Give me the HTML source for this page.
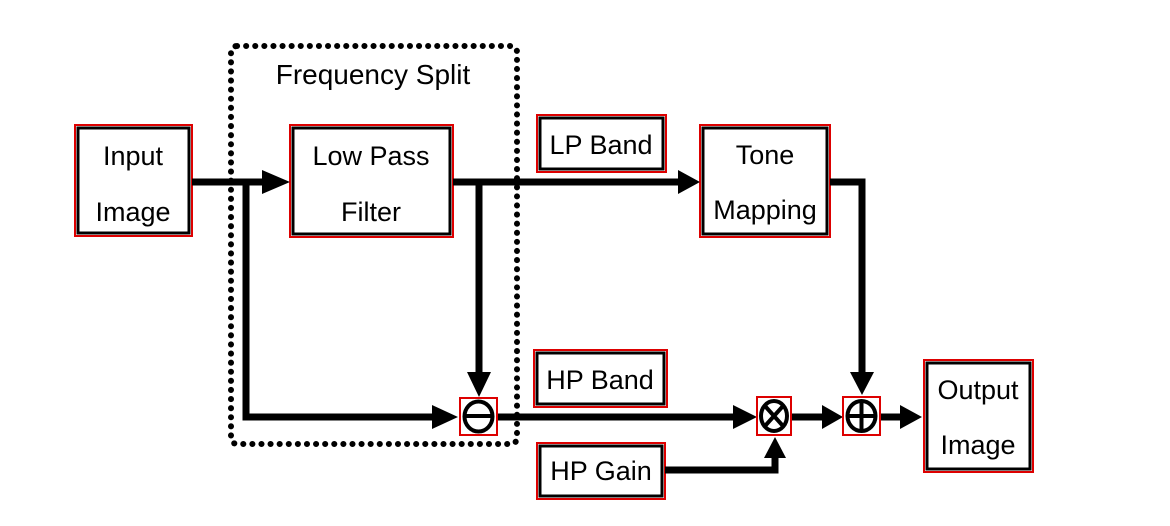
<!DOCTYPE html>
<html><head><style>
body{margin:0;background:#fff;}
svg text{font-family:"Liberation Sans",Arial,sans-serif;font-size:27px;fill:#000;text-anchor:middle;}
</style></head><body>
<svg width="1170" height="521" xmlns="http://www.w3.org/2000/svg">
<rect x="231" y="46" width="286" height="398" rx="6" fill="none" stroke="#000" stroke-width="6" stroke-dasharray="0.1 9" stroke-linecap="round"/>
<text x="373" y="84" style="font-size:28px">Frequency Split</text>
<g fill="#fff">
<rect x="75" y="125" width="117" height="111" stroke="#d00" stroke-width="2"/><rect x="78" y="128" width="111" height="105" stroke="#000" stroke-width="3"/>
<rect x="290" y="125" width="163" height="112" stroke="#d00" stroke-width="2"/><rect x="293" y="128" width="157" height="106" stroke="#000" stroke-width="3"/>
<rect x="537" y="115" width="129" height="57" stroke="#d00" stroke-width="2"/><rect x="540" y="118" width="123" height="51" stroke="#000" stroke-width="3"/>
<rect x="700" y="125" width="130" height="112" stroke="#d00" stroke-width="2"/><rect x="703" y="128" width="124" height="106" stroke="#000" stroke-width="3"/>
<rect x="534" y="350" width="133" height="57" stroke="#d00" stroke-width="2"/><rect x="537" y="353" width="127" height="51" stroke="#000" stroke-width="3"/>
<rect x="537" y="443" width="128" height="56" stroke="#d00" stroke-width="2"/><rect x="540" y="446" width="122" height="50" stroke="#000" stroke-width="3"/>
<rect x="924" y="360" width="109" height="112" stroke="#d00" stroke-width="2"/><rect x="927" y="363" width="103" height="106" stroke="#000" stroke-width="3"/>
</g>
<text x="133" y="165">Input</text><text x="133" y="221">Image</text>
<text x="371" y="165">Low Pass</text><text x="371" y="221">Filter</text>
<text x="601" y="154">LP Band</text>
<text x="765" y="164">Tone</text><text x="765" y="219">Mapping</text>
<text x="600" y="389">HP Band</text>
<text x="601" y="480">HP Gain</text>
<text x="978" y="399">Output</text><text x="978" y="454">Image</text>
<g stroke="#000" stroke-width="7" fill="none">
<path d="M192 182H266"/>
<path d="M246 182V417H436"/>
<path d="M453 182H682"/>
<path d="M479 182V376"/>
<path d="M497 417H737"/>
<path d="M830 182H862V376"/>
<path d="M791 417H826"/>
<path d="M880 417H904"/>
<path d="M665 470H775V458"/>
</g>
<g fill="#000">
<polygon points="262,170 290,182 262,194"/>
<polygon points="432,405 458,417 432,429"/>
<polygon points="467,372 491,372 479,397"/>
<polygon points="678,170 700,182 678,194"/>
<polygon points="850,372 874,372 862,395"/>
<polygon points="733,405 757,417 733,429"/>
<polygon points="822,405 843,417 822,429"/>
<polygon points="900,405 922,417 900,429"/>
<polygon points="764,458 786,458 775,437"/>
</g>
<g fill="none">
<rect x="460" y="398" width="37" height="37" stroke="#d00" stroke-width="2"/>
<ellipse cx="478.5" cy="416.5" rx="14" ry="15" stroke="#000" stroke-width="4"/>
<path d="M465 416H492" stroke="#000" stroke-width="4"/>
<rect x="757" y="397" width="34" height="38" stroke="#d00" stroke-width="2"/>
<ellipse cx="774" cy="416" rx="13" ry="15" stroke="#000" stroke-width="4"/>
<path d="M765 406L783 426M783 406L765 426" stroke="#000" stroke-width="4"/>
<rect x="843" y="397" width="37" height="38" stroke="#d00" stroke-width="2"/>
<ellipse cx="861.5" cy="416" rx="14" ry="15" stroke="#000" stroke-width="4"/>
<path d="M848 416H875M861.5 402V430" stroke="#000" stroke-width="4"/>
</g>
</svg>
</body></html>
